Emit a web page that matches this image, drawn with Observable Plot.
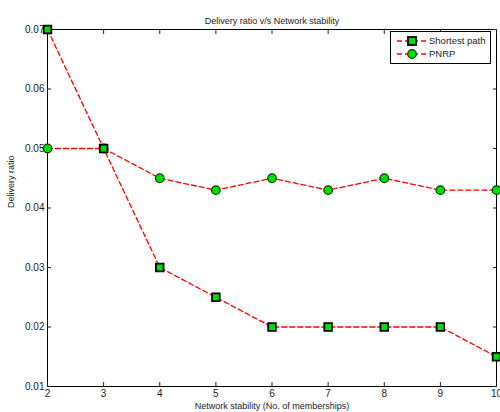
<!DOCTYPE html>
<html><head><meta charset="utf-8">
<script src="https://cdn.jsdelivr.net/npm/d3@7"></script>
<script src="https://cdn.jsdelivr.net/npm/@observablehq/plot@0.6"></script>
<style>
body{margin:0;background:#fff;font-family:"Liberation Sans",Arial,sans-serif;}
#wrap{position:relative;width:500px;height:412px;}
#legend{position:absolute;left:390px;top:31px;width:101px;height:33px;border:1.3px solid #000;background:#fff;box-sizing:border-box;font-size:9.5px;white-space:nowrap;}
</style></head>
<body><div id="wrap"><div id="legend"></div></div>
<script>
const stability = [2,3,4,5,6,7,8,9,10];
const shortestPath = [0.07,0.05,0.03,0.025,0.02,0.02,0.02,0.02,0.015];
const pnrp = [0.05,0.05,0.045,0.043,0.045,0.043,0.045,0.043,0.043];
const xTicks = [2,3,4,5,6,7,8,9,10];
const yTicks = [0.01,0.02,0.03,0.04,0.05,0.06,0.07];
const seriesNames = ["Shortest path","PNRP"];
const title = "Delivery ratio v/s Network stability";
const xLabel = "Network stability (No. of memberships)";
const yLabel = "Delivery ratio";

const sp = stability.map((x,i)=>({x, y: shortestPath[i]}));
const pn = stability.map((x,i)=>({x, y: pnrp[i]}));
const green = "#00e000";

const chart = Plot.plot({
  width: 500, height: 412,
  marginLeft: 47, marginRight: 4, marginTop: 29, marginBottom: 26,
  style: {fontFamily: "Liberation Sans, Arial, sans-serif", fontSize: "10px", color: "#222", background: "transparent"},
  x: {domain: [2,10]},
  y: {domain: [0.01,0.07]},
  marks: [
    Plot.frame({stroke: "#000", strokeWidth: 1}),
    Plot.axisX({ticks: xTicks, tickSize: -4, tickPadding: 7, tickFormat: d3.format("d"), label: null}),
    Plot.axisX({anchor: "top", ticks: xTicks, tickSize: -4, tickFormat: () => "", label: null}),
    Plot.axisY({ticks: yTicks, tickSize: -4, tickPadding: 7, tickFormat: d3.format(".2f"), label: null}),
    Plot.axisY({anchor: "right", ticks: yTicks, tickSize: -4, tickFormat: () => "", label: null}),
    Plot.text([title], {frameAnchor: "top", dy: -12, fontSize: 9}),
    Plot.text([xLabel], {frameAnchor: "bottom", dy: 22, fontSize: 9}),
    Plot.text([yLabel], {frameAnchor: "left", dx: -36, rotate: -90, fontSize: 9}),
    Plot.line(pn, {x: "x", y: "y", stroke: "#ff0000", strokeWidth: 1.3, strokeDasharray: "5,3"}),
    Plot.line(sp, {x: "x", y: "y", stroke: "#ff0000", strokeWidth: 1.3, strokeDasharray: "5,3"}),
    Plot.dot(pn, {x: "x", y: "y", r: 4.3, fill: green, stroke: "#0a3a0a", strokeWidth: 1.2}),
    Plot.dot(sp, {x: "x", y: "y", symbol: "square", r: 4.3, fill: green, stroke: "#000", strokeWidth: 1.8})
  ]
});
document.getElementById("wrap").prepend(chart);

// legend
const leg = document.getElementById("legend");
leg.innerHTML = seriesNames.map((name,i)=>`
<div style="display:flex;align-items:center;height:13px;margin-top:${i===0?2:0}px">
<svg width="32" height="12" style="margin-left:4px;flex:none"><line x1="2" x2="31" y1="6" y2="6" stroke="#ff0000" stroke-width="1.3" stroke-dasharray="5,3"/>
${i===0?`<rect x="13" y="2" width="8" height="8" fill="${green}" stroke="#000" stroke-width="1.8"/>`:`<circle cx="17" cy="6" r="4.3" fill="${green}" stroke="#0a3a0a" stroke-width="1.2"/>`}
</svg><span style="color:#222;margin-left:2px">${name}</span></div>`).join("");
</script>
</body></html>
